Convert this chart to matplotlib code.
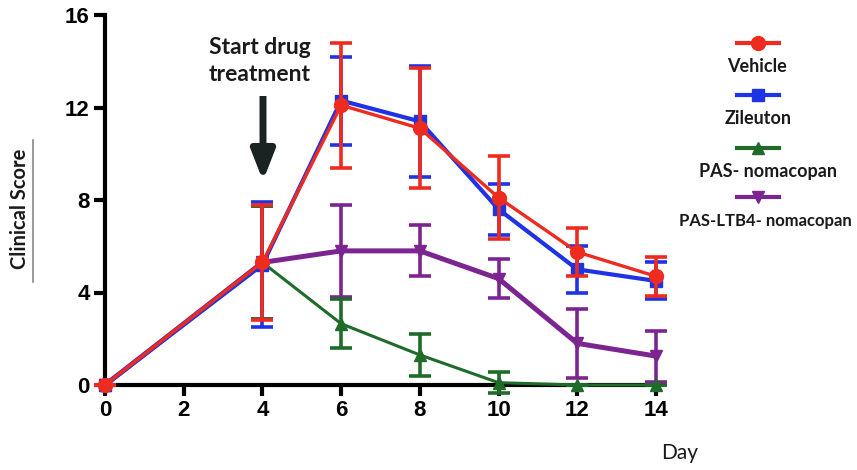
import matplotlib
matplotlib.use('Agg')
import matplotlib.pyplot as plt
from matplotlib.lines import Line2D

plt.rcParams.update({
    'font.family': ['Liberation Sans', 'DejaVu Sans'],
    'axes.linewidth': 3.0,
})

# ---------- data ----------
days = [0, 4, 6, 8, 10, 12, 14]

vehicle = [0, 5.3, 12.1, 11.1, 8.1, 5.75, 4.7]
vehicle_err = [0, 2.5, 2.7, 2.6, 1.8, 1.05, 0.85]

zileuton = [0, 5.2, 12.3, 11.4, 7.6, 5.0, 4.5]
zileuton_err = [0, 2.7, 1.9, 2.4, 1.1, 1.0, 0.8]

pas_nom = [0, 5.3, 2.65, 1.3, 0.1, 0, 0]
pas_nom_err = [0, 2.45, 1.05, 0.9, 0.45, 0, 0]

pas_ltb4 = [0, 5.3, 5.8, 5.8, 4.6, 1.8, 1.25]
pas_ltb4_err = [0, 2.45, 2.0, 1.1, 0.85, 1.5, 1.1]

labels = ['Vehicle', 'Zileuton', 'PAS- nomacopan', 'PAS-LTB4- nomacopan']
xticks = [0, 2, 4, 6, 8, 10, 12, 14]
yticks = [0, 4, 8, 12, 16]

# colors
C_RED = '#ee2b1f'
C_BLUE = '#1f33e6'
C_GREEN = '#1f6b2a'
C_PURPLE = '#7c2591'
C_TEXT = '#1a1a1a'
TXT_FONT = ['Lato', 'DejaVu Sans']

# (values, errors, color, marker, marker size, line width, zorder)
series = [
    (pas_ltb4, pas_ltb4_err, C_PURPLE, 'v', 9, 3.6, 3),
    (pas_nom, pas_nom_err, C_GREEN, '^', 8, 2.2, 4),
    (zileuton, zileuton_err, C_BLUE, 's', 9, 3.0, 5),
    (vehicle, vehicle_err, C_RED, 'o', 10, 2.4, 6),
]

# ---------- figure ----------
W, H = 857, 470
fig = plt.figure(figsize=(W / 100, H / 100), dpi=100)
ax = fig.add_axes([105 / W, 1 - 385 / H, (656 - 105) / W, (385 - 15) / H])

for vals, errs, col, mk, ms, lw, z in series:
    ax.errorbar(days, vals, yerr=errs, color=col, marker=mk, ms=ms,
                lw=lw, elinewidth=2.6, capsize=8, capthick=2.6,
                zorder=z, clip_on=False)

ax.set_xlim(0, 14)
ax.set_ylim(0, 16)
ax.set_xticks(xticks)
ax.set_yticks(yticks)
ax.spines['top'].set_visible(False)
ax.spines['right'].set_visible(False)
ax.tick_params(direction='out', length=8, width=3, labelsize=16, pad=3)
for t in ax.get_xticklabels() + ax.get_yticklabels():
    t.set_fontweight('bold')

# ---------- annotations ----------
fig.text(260 / W, 1 - 61 / H, 'Start drug\ntreatment', ha='center', va='center',
         fontsize=16.5, fontweight='bold', family=TXT_FONT, color=C_TEXT,
         linespacing=1.35)
ax.annotate('', xy=(263 / W, 1 - 181 / H), xytext=(263 / W, 1 - 96 / H),
            xycoords='figure fraction', textcoords='figure fraction',
            arrowprops=dict(arrowstyle='-|>,head_width=0.35,head_length=0.9',
                            mutation_scale=20, lw=5, color='#1a2222',
                            capstyle='butt', shrinkA=0, shrinkB=0))

# y label with underline
fig.text(20 / W, 1 - 209 / H, 'Clinical Score', rotation=90, ha='center',
         va='center', fontsize=14.5, fontweight='bold', family=TXT_FONT,
         color=C_TEXT)
fig.add_artist(Line2D([33 / W, 33 / W], [1 - 282 / H, 1 - 140 / H],
                      color='#888888', lw=1.2))

fig.text(680 / W, 1 - 453 / H, 'Day', ha='center', va='center', fontsize=15,
         family=TXT_FONT, color=C_TEXT)

# ---------- legend ----------
leg_x = 758
leg_text_x = [757, 758, 768, 765]
leg_text_fs = [13, 13, 13, 12]
leg_line_y = [43, 95, 148, 197]
leg_text_y = [67, 119, 172, 221]
for (vals, errs, col, mk, ms, lw, z), tx, fs, ly, ty, lab in zip(
        series[::-1], leg_text_x, leg_text_fs, leg_line_y, leg_text_y, labels):
    fig.add_artist(Line2D([(leg_x - 21) / W, (leg_x + 21) / W],
                          [1 - ly / H, 1 - ly / H], color=col, lw=3, zorder=5))
    fig.add_artist(Line2D([leg_x / W], [1 - ly / H], color=col, marker=mk,
                          ms=ms, lw=0, zorder=6))
    fig.text(tx / W, 1 - ty / H, lab, ha='center', va='center',
             fontsize=fs, fontweight='bold', family=TXT_FONT, color=C_TEXT)

fig.savefig('out.png', dpi=100, facecolor='white')
